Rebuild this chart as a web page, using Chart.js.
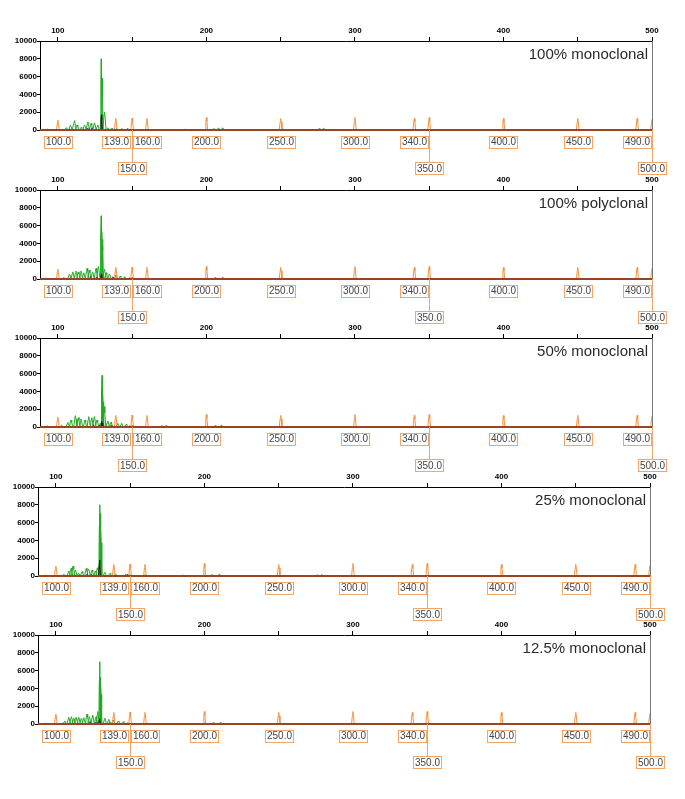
<!DOCTYPE html>
<html>
<head>
<meta charset="utf-8">
<script src="https://cdn.jsdelivr.net/npm/chart.js@4.4.1/dist/chart.umd.min.js"></script>
<style>
  body { margin: 0; background: #fff; width: 685px; height: 799px; position: relative; overflow: hidden; }
  canvas { position: absolute; }
</style>
</head>
<body>
<canvas id="p0" width="687" height="175"></canvas>
<canvas id="p1" width="687" height="175"></canvas>
<canvas id="p2" width="687" height="175"></canvas>
<canvas id="p3" width="687" height="175"></canvas>
<canvas id="p4" width="687" height="175"></canvas>
<script>
// panel titles
const panelTitles = ['100% monoclonal', '100% polyclonal', '50% monoclonal', '25% monoclonal', '12.5% monoclonal'];

// axis ticks
const xTicks = [100, 150, 200, 250, 300, 350, 400, 450, 500];
const xLabelled = [100, 200, 300, 400, 500];
const yTicks = [0, 1000, 2000, 3000, 4000, 5000, 6000, 7000, 8000, 9000, 10000];
const yLabelled = [0, 2000, 4000, 6000, 8000, 10000];

// size standard (orange) peaks
const sizeStd = [100, 139, 150, 160, 200, 250, 300, 340, 350, 400, 450, 490, 500];
const sizeHeights = [1100, 1300, 1350, 1300, 1400, 1300, 1400, 1300, 1400, 1300, 1300, 1300, 1200];
const sizeLowered = [150, 350, 500];

// green trace peaks [size, height]
const green1 = [[93,100],[105.6,250],[108.5,560],[111.2,1050],[113,560],[115.7,300],[118,560],[120.2,900],[122.4,750],[124.7,800],[126.9,560],[129.2,8000],[129.9,5800],[131.4,2000],[133.7,250],[136,150],[139.5,200],[143,150],[205,150],[208,200],[211,250],[276,150],[279,200]];
const green2 = [[92,100],[104,150],[107.8,560],[110,800],[112.2,900],[113.8,800],[115.6,900],[117.4,700],[119.7,1200],[121.2,1000],[123.4,800],[125.7,1200],[127.3,1400],[129.2,7100],[129.6,5300],[130.1,4450],[131.4,1100],[132.5,700],[134.7,560],[139.2,450],[142,330],[145,260],[150,150],[206,150],[211,200]];
const green3 = [[93,120],[102.5,220],[106.7,520],[108.9,790],[111.8,1270],[113.8,1050],[115.6,900],[118.3,790],[120.8,1160],[122.8,1050],[124.6,1160],[126.4,790],[128.5,400],[129.8,5800],[130.3,4000],[131.2,2300],[133.6,670],[135.8,520],[140.3,410],[143,410],[146,300],[150,150],[170,150],[173,150],[206,150],[210,200]];
const green4 = [[93,100],[105.4,190],[108.7,560],[110.3,860],[111.6,1120],[113.2,670],[115.4,300],[117.7,490],[120.5,860],[122.1,780],[124.4,670],[126.6,560],[128,930],[129.5,8000],[129.8,7000],[130.4,5300],[133,410],[136.5,300],[140,200],[150,120],[160,120],[205,150],[210,200],[276,120],[279,150]];
const green5 = [[93,100],[106,340],[108.7,750],[110.5,820],[112.1,640],[113.6,710],[115.4,750],[117.2,640],[118.8,710],[121,1120],[122.6,820],[124.8,1010],[127.1,820],[128.2,1390],[129.5,7000],[129.8,5240],[130.3,4750],[133,640],[135.7,520],[138.6,450],[142,340],[145.4,260],[206,150],[211,200]];

// black and blue traces [size, height]
const black1 = [[129.3,1700],[147,150],[186,100],[252,100]];
const black2 = [[129.3,500],[148,120]];
const black3 = [[129.6,600],[148,120]];
const black4 = [[129.4,1800],[148,150],[186,100]];
const black5 = [[129.4,600],[148,120]];
const blue1 = [[120,200],[123,250],[137,150]];
const blue2 = [[122,250],[126,200],[137,250]];
const blue3 = [[124,250],[128,200],[136,200]];
const blue4 = [[121,200],[124,200],[147,150]];
const blue5 = [[123,250],[127,200],[136,150]];

const greens = [green1, green2, green3, green4, green5];
const blacks = [black1, black2, black3, black4, black5];
const blues = [blue1, blue2, blue3, blue4, blue5];

const canvasTop = [10, 159, 307, 456, 604];
const canvasLeft = [0, 0, 0, -2, -2];

// peaks -> spike points for the line (tall peaks are narrower)
function spikes(peaks, w) {
    const pts = [];
    peaks.forEach(p => {
        const hw = p[1] > 3000 ? w * 0.5 : w;
        pts.push({x: p[0] - hw, y: 0}, {x: p[0] - hw * 0.4, y: p[1] * 0.7}, {x: p[0], y: p[1]},
                 {x: p[0] + hw * 0.4, y: p[1] * 0.7}, {x: p[0] + hw, y: 0});
    });
    return pts;
}

const labelPlugin = {
    id: 'sizeLabels',
    afterDatasetsDraw(chart) {
        const ctx = chart.ctx;
        const a = chart.chartArea;
        const xs = chart.scales.x;
        const ys = chart.scales.y;
        const base = ys.getPixelForValue(0);
        ctx.save();
        // right border
        ctx.strokeStyle = '#777';
        ctx.lineWidth = 1;
        ctx.beginPath();
        ctx.moveTo(a.right + 0.5, a.top);
        ctx.lineTo(a.right + 0.5, base);
        ctx.stroke();
        // title
        ctx.fillStyle = '#2a2a2a';
        ctx.font = "15px 'Liberation Sans', Arial, sans-serif";
        ctx.textAlign = 'right';
        ctx.textBaseline = 'alphabetic';
        ctx.fillText(chart.options.plugins.panelTitle, a.right - 4, a.top + 18);
        // size labels
        ctx.font = "10px 'Liberation Sans', Arial, sans-serif";
        ctx.textAlign = 'center';
        ctx.textBaseline = 'middle';
        sizeStd.forEach(v => {
            const x = Math.round(xs.getPixelForValue(v));
            const low = sizeLowered.includes(v);
            const cy = base + (low ? 38 : 11.5);
            const txt = v.toFixed(1);
            const w = ctx.measureText(txt).width + 3;
            const h = 12;
            ctx.strokeStyle = '#f3a566';
            if (low) {
                ctx.beginPath();
                ctx.moveTo(x + 0.5, base);
                ctx.lineTo(x + 0.5, cy - h / 2);
                ctx.stroke();
            }
            ctx.fillStyle = '#fff';
            ctx.fillRect(x - w / 2, cy - h / 2, w, h);
            ctx.strokeRect(Math.round(x - w / 2) + 0.5, Math.round(cy - h / 2) + 0.5, Math.round(w), h);
            ctx.fillStyle = '#444';
            ctx.fillText(txt, x + 0.5, cy + 1);
        });
        ctx.restore();
    }
};

const axisFont = {family: "'Liberation Sans', Arial, sans-serif", size: 8, weight: 'bold'};

for (let i = 0; i < 5; i++) {
    const cv = document.getElementById('p' + i);
    cv.style.top = canvasTop[i] + 'px';
    cv.style.left = canvasLeft[i] + 'px';
    new Chart(cv.getContext('2d'), {
        type: 'scatter',
        data: {
            datasets: [
                {data: [{x: 88, y: 0}, {x: 500, y: 0}], borderColor: '#9a4420', borderWidth: 2, clip: 3, order: 0},
                {data: spikes(sizeStd.map((s, k) => [s, sizeHeights[k]]), 0.9), borderColor: '#f3923f', borderWidth: 1, order: 1},
                {data: spikes(blacks[i], 0.6), borderColor: '#111', borderWidth: 1, order: 2},
                {data: spikes(blues[i], 0.8), borderColor: '#2233bb', borderWidth: 1, order: 3},
                {data: spikes(greens[i], 1.1), borderColor: '#22aa22', borderWidth: 1, order: 4}
            ].map(d => Object.assign({showLine: true, pointRadius: 0, tension: 0}, d))
        },
        options: {
            responsive: false,
            animation: false,
            devicePixelRatio: 1,
            layout: {padding: {left: 0, top: 0, right: 35, bottom: 55}},
            plugins: {legend: {display: false}, tooltip: {enabled: false}, panelTitle: panelTitles[i]},
            scales: {
                x: {
                    type: 'linear', position: 'top', min: 88, max: 500,
                    afterBuildTicks: s => { s.ticks = xTicks.map(v => ({value: v})); },
                    afterFit: s => { s.height = 31; },
                    ticks: {callback: v => xLabelled.includes(v) ? v : '', font: axisFont, color: '#000', maxRotation: 0, autoSkip: false, padding: 1},
                    grid: {drawOnChartArea: false, tickLength: 4, color: '#000'},
                    border: {color: '#000', width: 1}
                },
                y: {
                    min: 0, max: 10000,
                    afterBuildTicks: s => { s.ticks = yTicks.map(v => ({value: v})); },
                    afterFit: s => { s.width = 40; },
                    ticks: {callback: v => yLabelled.includes(v) ? v : '', font: axisFont, color: '#000', padding: 0},
                    grid: {drawOnChartArea: false, tickLength: 3, color: '#000'},
                    border: {color: '#000', width: 1}
                }
            }
        },
        plugins: [labelPlugin]
    });
}
</script>
</body>
</html>
